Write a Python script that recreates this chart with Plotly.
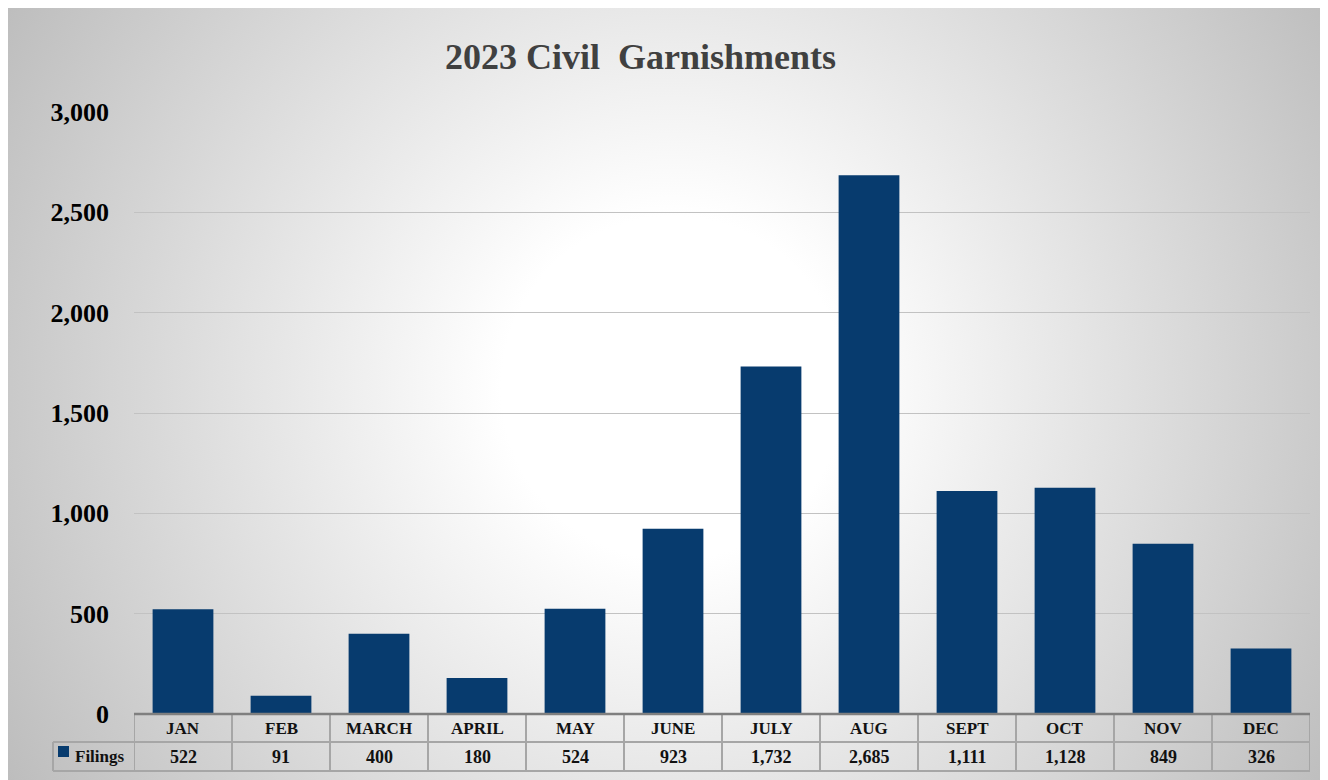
import base64
import plotly.graph_objects as go

# ---- data ----
months = ["JAN", "FEB", "MARCH", "APRIL", "MAY", "JUNE", "JULY", "AUG", "SEPT", "OCT", "NOV", "DEC"]
filings = [522, 91, 400, 180, 524, 923, 1732, 2685, 1111, 1128, 849, 326]
series_name = "Filings"
title_text = "2023 Civil  Garnishments"
y_ticks = [0, 500, 1000, 1500, 2000, 2500, 3000]

# ---- geometry (figure pixels; page has an 8px body margin) ----
OFF = 8
W, H = 1320, 772
L, R, T, B = 134 - OFF, 1310 - OFF, 112 - OFF, 714 - OFF
pw, ph = R - L, B - T


def px(x):  # page x -> paper
    return (x - OFF - L) / pw


def py(y):  # page y -> paper
    return (B - (y - OFF)) / ph


BAR = "#073B6E"
FONT = "Liberation Serif, Times New Roman, serif"
LINE = "#a6a6a6"

svg = f'''<svg xmlns="http://www.w3.org/2000/svg" width="{W}" height="{H}" viewBox="0 0 {W} {H}">
<defs><radialGradient id="g" gradientUnits="userSpaceOnUse" cx="665" cy="380" r="780">
<stop offset="0" stop-color="#ffffff"/><stop offset="0.22" stop-color="#ffffff"/>
<stop offset="1" stop-color="#bcbcbc"/></radialGradient></defs>
<rect x="0" y="0" width="{W}" height="{H}" fill="url(#g)"/></svg>'''
src = "data:image/svg+xml;base64," + base64.b64encode(svg.encode()).decode()

fig = go.Figure()
fig.add_trace(go.Bar(x=months, y=filings, marker=dict(color=BAR, line=dict(width=0)),
                     name=series_name, width=0.62, showlegend=False))

fig.add_layout_image(dict(source=src, xref="paper", yref="paper",
                          x=-L / pw, y=(B) / ph, sizex=W / pw, sizey=H / ph,
                          xanchor="left", yanchor="top", sizing="stretch", layer="below"))

shapes = []
row1_top, row1_bot, row2_bot = py(714), py(742), py(771)
# horizontal lines
shapes.append(dict(type="line", xref="paper", yref="paper", x0=px(53), x1=1,
                   y0=row1_bot, y1=row1_bot, line=dict(color=LINE, width=2)))
shapes.append(dict(type="line", xref="paper", yref="paper", x0=px(53), x1=1,
                   y0=row2_bot, y1=row2_bot, line=dict(color=LINE, width=2)))
# vertical lines
for i in range(len(months) + 1):
    shapes.append(dict(type="line", xref="x", yref="paper", x0=i - 0.5, x1=i - 0.5,
                       y0=row1_top, y1=row2_bot, line=dict(color=LINE, width=2)))
shapes.append(dict(type="line", xref="paper", yref="paper", x0=px(53), x1=px(53),
                   y0=row1_bot, y1=row2_bot, line=dict(color=LINE, width=2)))
# top border (axis line)
shapes.append(dict(type="line", xref="x", yref="paper", x0=-0.5, x1=len(months) - 0.5,
                   y0=row1_top, y1=row1_top, line=dict(color="#7f7f7f", width=2.5)))
# legend key
shapes.append(dict(type="rect", xref="paper", yref="paper", x0=px(58), x1=px(69),
                   y0=py(757), y1=py(746), fillcolor=BAR, line=dict(width=0)))

annotations = []
for m, v in zip(months, filings):
    annotations.append(dict(x=m, y=(row1_top + row1_bot) / 2, xref="x", yref="paper",
                            text=m, showarrow=False, yanchor="middle",
                            font=dict(family=FONT, size=17, color="#111111", weight="bold")))
    annotations.append(dict(x=m, y=(row1_bot + row2_bot) / 2, xref="x", yref="paper",
                            text=f"{v:,}", showarrow=False, yanchor="middle",
                            font=dict(family=FONT, size=18, color="#111111", weight="bold")))
annotations.append(dict(x=px(73), y=(row1_bot + row2_bot) / 2, xref="paper", yref="paper",
                        text=series_name, showarrow=False, xanchor="left", yanchor="middle",
                        font=dict(family=FONT, size=17, color="#111111", weight="bold")))
annotations.append(dict(x=px(640), y=py(57), xref="paper", yref="paper",
                        text=title_text, showarrow=False, xanchor="center", yanchor="middle",
                        font=dict(family=FONT, size=36, color="#404040", weight="bold")))

fig.update_layout(
    width=W, height=H,
    margin=dict(l=L, r=W - R, t=T, b=H - B, pad=0),
    paper_bgcolor="#c8c8c8", plot_bgcolor="rgba(0,0,0,0)",
    shapes=shapes, annotations=annotations,
    bargap=0.38,
    xaxis=dict(showticklabels=False, showgrid=False, zeroline=False, showline=False,
               range=[-0.5, len(months) - 0.5], fixedrange=True),
    yaxis=dict(range=[0, 3000], tickvals=y_ticks, tickformat=",", showline=False,
               gridcolor="#c2c2c2", gridwidth=1.2, zeroline=False,
               ticklabelstandoff=24,
               tickfont=dict(family=FONT, size=26, color="#000000", weight="bold")),
)

fig.write_html("out.html")
